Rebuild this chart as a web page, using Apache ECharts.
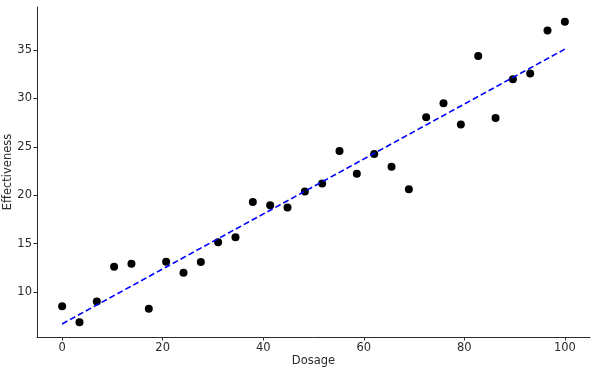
<!DOCTYPE html>
<html>
<head>
<meta charset="utf-8">
<script src="https://cdn.jsdelivr.net/npm/echarts@6/dist/echarts.min.js"></script>
<style>
  html, body { margin: 0; padding: 0; background: #fff; }
  #chart { width: 593px; height: 375px; }
</style>
</head>
<body>
<div id="chart"></div>
<script>
// dosage values (x) and measured effectiveness (y)
var dosage = [0, 3.45, 6.9, 10.34, 13.79, 17.24, 20.69, 24.14, 27.59, 31.03,
  34.48, 37.93, 41.38, 44.83, 48.28, 51.72, 55.17, 58.62, 62.07, 65.52,
  68.97, 72.41, 75.86, 79.31, 82.76, 86.21, 89.66, 93.1, 96.55, 100];
var effectiveness = [8.54, 6.88, 9.03, 12.6, 12.92, 8.26, 13.13, 11.98, 13.09, 15.14,
  15.66, 19.3, 18.96, 18.72, 20.38, 21.22, 24.58, 22.22, 24.27, 22.95,
  20.63, 28.05, 29.51, 27.32, 34.38, 27.99, 31.98, 32.57, 37.01, 37.92];

// fitted trend line end points
var fitX = [0, 100];
var fitY = [6.7, 35.1];

var xTicks = [0, 20, 40, 60, 80, 100];
var yTicks = [10, 15, 20, 25, 30, 35];

var chart = echarts.init(document.getElementById('chart'));

var font = 'DejaVu Sans';
var axisColor = '#2b2b2b';

var option = {
  animation: false,
  grid: { left: 37, right: 3, top: 7, bottom: 38, containLabel: false, outerBoundsMode: 'none' },
  xAxis: {
    type: 'value',
    min: -5,
    max: 105,
    name: 'Dosage',
    nameLocation: 'middle',
    nameGap: 18,
    nameMoveOverlap: false,
    nameTextStyle: { fontFamily: font, fontSize: 11.5, color: axisColor },
    axisLine: { show: true, onZero: false, lineStyle: { color: axisColor, width: 1 } },
    axisTick: { show: true, length: 3.5, lineStyle: { color: axisColor }, customValues: xTicks },
    axisLabel: { fontFamily: font, fontSize: 11.5, color: axisColor, margin: 5, customValues: xTicks },
    splitLine: { show: false }
  },
  yAxis: {
    type: 'value',
    min: 5.35,
    max: 39.45,
    name: 'Effectiveness',
    nameLocation: 'middle',
    nameGap: 23,
    nameMoveOverlap: false,
    nameTextStyle: { fontFamily: font, fontSize: 11.5, color: axisColor },
    axisLine: { show: true, onZero: false, lineStyle: { color: axisColor, width: 1 } },
    axisTick: { show: true, length: 3.5, lineStyle: { color: axisColor }, customValues: yTicks },
    axisLabel: { fontFamily: font, fontSize: 11.5, color: axisColor, margin: 5, customValues: yTicks },
    splitLine: { show: false }
  },
  series: [
    {
      type: 'scatter',
      symbolSize: 8,
      itemStyle: { color: '#000', opacity: 1 },
      data: dosage.map(function (d, i) { return [d, effectiveness[i]]; }),
      z: 3
    },
    {
      type: 'line',
      symbol: 'none',
      lineStyle: { color: '#0000ff', width: 1.6, type: [6, 3] },
      data: fitX.map(function (d, i) { return [d, fitY[i]]; }),
      z: 4
    }
  ]
};

chart.setOption(option);
window.onresize = chart.resize;
</script>
</body>
</html>
